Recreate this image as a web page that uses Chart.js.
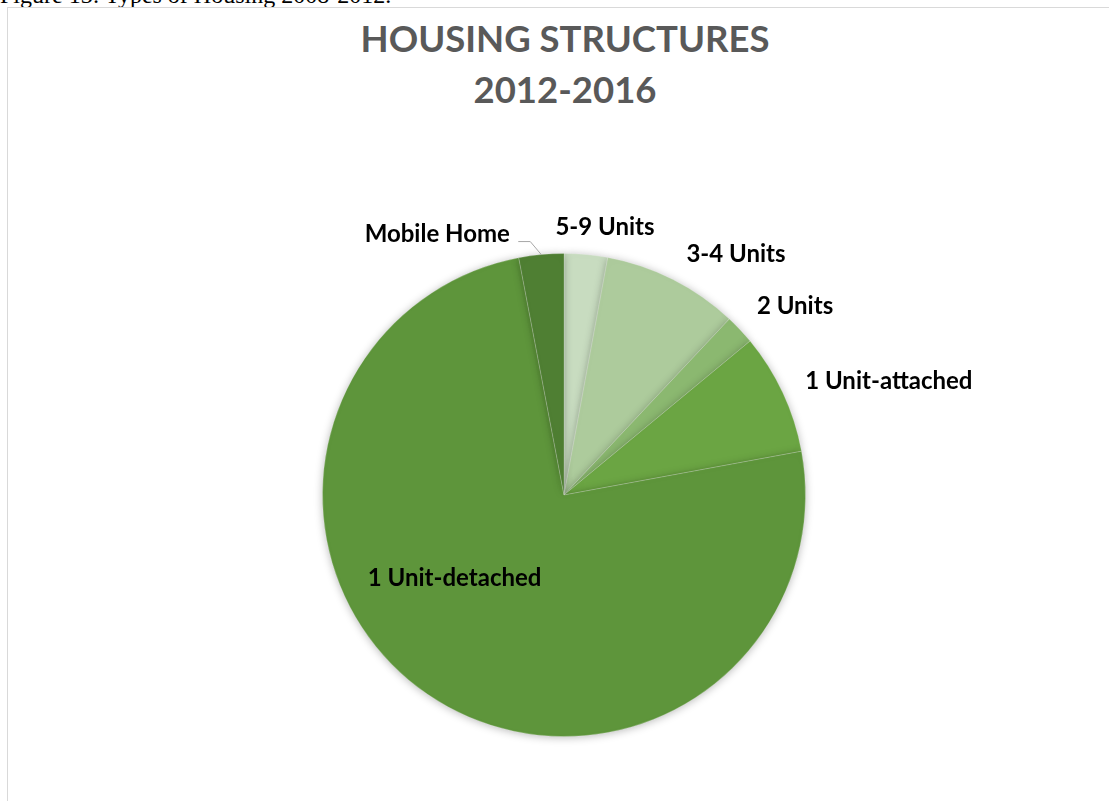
<!DOCTYPE html>
<html>
<head>
<meta charset="utf-8">
<script src="https://cdn.jsdelivr.net/npm/chart.js@4"></script>
<style>
  html, body { margin: 0; padding: 0; background: #fff; overflow: hidden; }
  #wrap { position: relative; width: 1109px; height: 801px; }
  #caption { position: absolute; left: 0; top: -19px; font: 24px "Liberation Serif", serif; color: #000; white-space: nowrap; line-height: 28px; }
  #frame { position: absolute; left: 7px; top: 7px; width: 1120px; height: 820px; border: 1px solid #d9d9d9; box-sizing: border-box; }
  #title { position: absolute; left: 0; width: 1130px; top: 13px; text-align: center; font: bold 36.5px Lato, sans-serif; color: #595959; line-height: 51px; }
  #chart { position: absolute; left: 0; top: 0; }
</style>
</head>
<body>
<div id="wrap">
  <div id="caption">Figure 13: Types of Housing 2008-2012.</div>
  <div id="frame"></div>
  <div id="title">HOUSING STRUCTURES<br>2012-2016</div>
  <canvas id="chart" width="1109" height="801"></canvas>
</div>
<script>
// share of housing units by structure type, %
var categories = ['5-9 Units', '3-4 Units', '2 Units', '1 Unit-attached', '1 Unit-detached', 'Mobile Home'];
var shares = [2.9, 9.1, 2.0, 8.1, 74.9, 3.0];
var sliceColors = ['#c8dcc0', '#adcb9c', '#8bb870', '#6ba543', '#5e953b', '#4f7f33'];

// label placement relative to the slice's outer mid point
var labelOffsets = [[19, -27], [63, -25], [55, -23], [106, -12], [27, -116], [-104, -20]];
var labelLeaders = [null, null, null, null, null, [[-11, -13], [-23, -13]]];

var pieShadow = {
	id: 'pieShadow',
	beforeDatasetDraw: function(chart) {
		var ctx = chart.ctx;
		ctx.save();
		ctx.shadowColor = 'rgba(0,0,0,0.28)';
		ctx.shadowBlur = 9;
		ctx.shadowOffsetX = 0;
		ctx.shadowOffsetY = 1;
	},
	afterDatasetDraw: function(chart) {
		chart.ctx.restore();
	}
};

var sliceLabels = {
	id: 'sliceLabels',
	afterDatasetsDraw: function(chart) {
		var ctx = chart.ctx;
		var meta = chart.getDatasetMeta(0);
		ctx.save();
		ctx.font = 'bold 24px Lato, sans-serif';
		ctx.fillStyle = '#000';
		ctx.textAlign = 'center';
		ctx.textBaseline = 'middle';
		meta.data.forEach(function(arc, i) {
			var p = arc.getProps(['x', 'y', 'startAngle', 'endAngle', 'outerRadius'], true);
			var mid = (p.startAngle + p.endAngle) / 2;
			var ex = p.x + Math.cos(mid) * p.outerRadius;
			var ey = p.y + Math.sin(mid) * p.outerRadius;
			var lead = labelLeaders[i];
			if (lead) {
				ctx.strokeStyle = '#a6a6a6';
				ctx.lineWidth = 1;
				ctx.beginPath();
				ctx.moveTo(ex, ey);
				lead.forEach(function(pt) { ctx.lineTo(ex + pt[0], ey + pt[1]); });
				ctx.stroke();
			}
			ctx.fillText(chart.data.labels[i], ex + labelOffsets[i][0], ey + labelOffsets[i][1]);
		});
		ctx.restore();
	}
};

var ctx = document.getElementById('chart');

var pieChart = new Chart(ctx, {
	type: 'pie',
	data: {
		labels: categories,
		datasets: [{
			data: shares,
			backgroundColor: sliceColors,
			borderColor: 'rgba(255,255,255,0.2)',
			borderWidth: 1
		}]
	},
	options: {
		responsive: false,
		animation: false,
		layout: { padding: { left: 322, right: 303, top: 253, bottom: 64 } },
		plugins: {
			legend: { display: false },
			tooltip: { enabled: false }
		}
	},
	plugins: [pieShadow, sliceLabels]
});
</script>
</body>
</html>
